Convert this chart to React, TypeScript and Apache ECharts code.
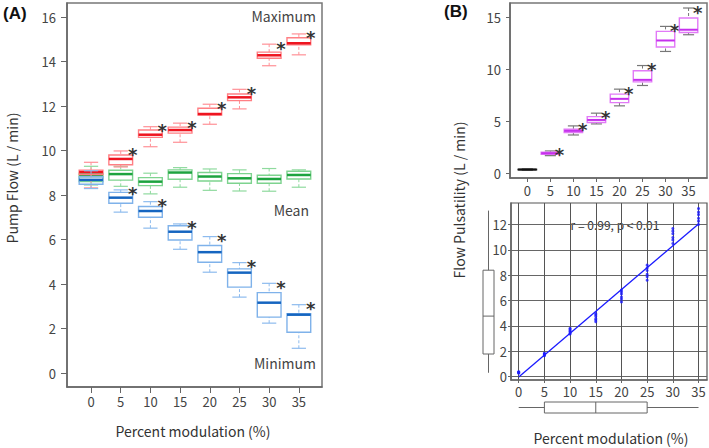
import React, { useEffect, useRef } from 'react';
import * as echarts from 'echarts';

// ---------- DATA ----------
const categories = [0, 5, 10, 15, 20, 25, 30, 35];
// [min, Q1, median, Q3, max]
const maxFlow = [
  [8.33, 8.93, 9.04, 9.13, 9.48],
  [9.27, 9.37, 9.63, 9.81, 9.99],
  [10.18, 10.6, 10.72, 10.93, 11.08],
  [10.38, 10.79, 10.93, 11.06, 11.24],
  [11.19, 11.6, 11.65, 11.91, 12.09],
  [11.88, 12.25, 12.4, 12.55, 12.76],
  [13.82, 14.16, 14.29, 14.43, 14.79],
  [14.31, 14.76, 14.83, 15.08, 15.25],
];
const meanFlow = [
  [8.46, 8.62, 8.86, 8.99, 9.3],
  [8.4, 8.68, 8.95, 9.12, 9.3],
  [8.06, 8.43, 8.61, 8.79, 8.99],
  [8.36, 8.72, 9.02, 9.14, 9.24],
  [8.22, 8.64, 8.84, 9.02, 9.18],
  [8.19, 8.54, 8.76, 8.97, 9.14],
  [8.18, 8.54, 8.73, 8.9, 9.2],
  [8.36, 8.73, 8.91, 9.08, 9.14],
];
const minFlow = [
  [8.3, 8.49, 8.69, 8.83, 9.1],
  [7.24, 7.64, 7.89, 8.13, 8.24],
  [6.52, 7.01, 7.29, 7.49, 7.71],
  [5.57, 5.99, 6.36, 6.63, 6.71],
  [4.54, 4.99, 5.44, 5.74, 6.14],
  [3.42, 3.87, 4.52, 4.69, 4.97],
  [2.25, 2.52, 3.17, 3.62, 4.04],
  [1.12, 1.84, 2.63, 2.67, 3.08],
];
const flowSignificant = [false, true, true, true, true, true, true, true];
const meanSignificant = [false, false, false, false, false, false, false, false];

const pulsatility = [
  [0.36, 0.38, 0.4, 0.42, 0.44],
  [1.73, 1.86, 1.96, 2.05, 2.18],
  [3.71, 3.94, 4.1, 4.26, 4.58],
  [4.77, 4.9, 5.15, 5.47, 5.8],
  [6.5, 6.81, 7.17, 7.62, 8.1],
  [8.45, 8.8, 8.99, 9.86, 10.36],
  [11.71, 12.13, 12.76, 13.63, 14.11],
  [13.31, 13.53, 13.79, 14.91, 15.87],
];
const pulsSignificant = [false, true, true, true, true, true, true, true];

// scatter: pulsatility vs percent modulation
const scatterGroups = [
  [0.27, 0.31, 0.34, 0.37, 0.39],
  [1.65, 1.69, 1.76, 1.8, 1.84],
  [3.36, 3.44, 3.57, 3.63, 3.74, 3.81],
  [4.33, 4.47, 4.58, 4.77, 4.88, 4.99],
  [5.9, 6.12, 6.28, 6.52, 6.69, 6.83],
  [7.61, 7.88, 8.07, 8.38, 8.57, 8.8],
  [10.5, 10.78, 10.97, 11.27, 11.48, 11.69],
  [12.0, 12.27, 12.49, 12.78, 12.98, 13.26],
];
const regressionLine = [
  [0, -0.02],
  [35, 12.05],
];
const regressionLabel = 'r = 0.99, p < 0.01';
const marginalX = [0, 5, 15, 25, 35];
const marginalY = [0.31, 1.79, 4.78, 8.4, 13.1];

const xTicks = [0, 5, 10, 15, 20, 25, 30, 35];
const yTicksA = [0, 2, 4, 6, 8, 10, 12, 14, 16];
const yTicksBTop = [0, 5, 10, 15];
const yTicksBBottom = [0, 2, 4, 6, 8, 10, 12];

// ---------- STYLE ----------
const FONT = '"Noto Sans CJK JP", "Noto Sans", sans-serif';
const LABEL = '#444';

type BoxStyle = { border: string; median: string; whisker: string };

function boxRenderer(style: BoxStyle, halfW: number, capW: number, medianW: number, sig: boolean[], override?: (i: number) => BoxStyle | null) {
  return (params: any, api: any) => {
    const idx = params.dataIndex;
    const st = (override && override(idx)) || style;
    const x = api.value(0);
    const mn = api.value(1), q1 = api.value(2), md = api.value(3), q3 = api.value(4), mx = api.value(5);
    const c = (xx: number, yy: number) => api.coord([xx, yy]);
    const pMin = c(x, mn), pQ1 = c(x, q1), pMd = c(x, md), pQ3 = c(x, q3), pMax = c(x, mx);
    const l = c(x - halfW, q1)[0];
    const r = c(x + halfW, q1)[0];
    const cl = c(x - capW, q1)[0];
    const cr = c(x + capW, q1)[0];
    const children: any[] = [
      { type: 'line', shape: { x1: pMax[0], y1: pMax[1], x2: pQ3[0], y2: pQ3[1] }, style: { stroke: st.whisker, lineWidth: 1, lineDash: [3, 2] } },
      { type: 'line', shape: { x1: pMin[0], y1: pMin[1], x2: pQ1[0], y2: pQ1[1] }, style: { stroke: st.whisker, lineWidth: 1, lineDash: [3, 2] } },
      { type: 'line', shape: { x1: cl, y1: pMax[1], x2: cr, y2: pMax[1] }, style: { stroke: st.whisker, lineWidth: 1.2 } },
      { type: 'line', shape: { x1: cl, y1: pMin[1], x2: cr, y2: pMin[1] }, style: { stroke: st.whisker, lineWidth: 1.2 } },
      { type: 'rect', shape: { x: l, y: pQ3[1], width: r - l, height: pQ1[1] - pQ3[1] }, style: { stroke: st.border, fill: 'none', lineWidth: 1.4 } },
      { type: 'line', shape: { x1: l, y1: pMd[1], x2: r, y2: pMd[1] }, style: { stroke: st.median, lineWidth: medianW } },
    ];
    if (sig[idx]) {
      children.push({
        type: 'text',
        x: r,
        y: pMax[1] + 4,
        style: { text: '*', fontSize: 18, fontWeight: 'bold', fill: '#333', align: 'center', verticalAlign: 'middle', fontFamily: 'DejaVu Sans' },
      });
    }
    return { type: 'group', children };
  };
}

function toBoxData(vals: number[][]) {
  return categories.map((c, i) => [c, ...vals[i]]);
}

function marginalVertical(params: any, api: any) {
  const v = [0, 1, 2, 3, 4].map((i) => api.value(i));
  const c = (xx: number, yy: number) => api.coord([xx, yy]);
  const st = { stroke: '#666', lineWidth: 1, fill: 'none' };
  const a = c(0.5, v[0]), b = c(0.5, v[1]), m = c(0, v[2]), q = c(0.5, v[3]), z = c(0.5, v[4]);
  const L = c(0, v[1])[0], R = c(1, v[1])[0];
  return {
    type: 'group',
    children: [
      { type: 'line', shape: { x1: a[0], y1: a[1], x2: b[0], y2: b[1] }, style: st },
      { type: 'line', shape: { x1: q[0], y1: q[1], x2: z[0], y2: z[1] }, style: st },
      { type: 'rect', shape: { x: L, y: q[1], width: R - L, height: b[1] - q[1] }, style: st },
      { type: 'line', shape: { x1: L, y1: m[1], x2: R, y2: m[1] }, style: st },
    ],
  };
}

function marginalHorizontal(params: any, api: any) {
  const v = [0, 1, 2, 3, 4].map((i) => api.value(i));
  const c = (xx: number, yy: number) => api.coord([xx, yy]);
  const st = { stroke: '#666', lineWidth: 1, fill: 'none' };
  const a = c(v[0], 0.5), b = c(v[1], 0.5), q = c(v[3], 0.5), z = c(v[4], 0.5);
  const T = c(v[1], 1)[1], B = c(v[1], 0)[1];
  const mx = c(v[2], 0)[0];
  return {
    type: 'group',
    children: [
      { type: 'line', shape: { x1: a[0], y1: a[1], x2: b[0], y2: b[1] }, style: st },
      { type: 'line', shape: { x1: q[0], y1: q[1], x2: z[0], y2: z[1] }, style: st },
      { type: 'rect', shape: { x: b[0], y: T, width: q[0] - b[0], height: B - T }, style: st },
      { type: 'line', shape: { x1: mx, y1: T, x2: mx, y2: B }, style: st },
    ],
  };
}

function valueAxis(extra: any) {
  return {
    type: 'value',
    axisLine: { show: true, onZero: false, lineStyle: { color: '#666', width: 1.5 } },
    splitLine: { show: false },
    ...extra,
  };
}

export default function App() {
  const ref = useRef<HTMLDivElement>(null);
  useEffect(() => {
    if (!ref.current) return;
    const chart = echarts.init(ref.current, null, { renderer: 'svg' });
    const lbl = (margin: number, values: number[]) => ({ customValues: values, color: LABEL, fontSize: 13, fontFamily: FONT, margin });
    const tick = (len: number, values: number[]) => ({ show: true, customValues: values, length: len, lineStyle: { color: '#666', width: 1 } });
    const scatterData: number[][] = [];
    categories.forEach((c, i) => scatterGroups[i].forEach((v) => scatterData.push([c, v])));

    const option: any = {
      animation: false,
      textStyle: { fontFamily: FONT },
      grid: [
        { left: 67, top: 3, width: 255, height: 384, show: true, borderColor: '#777', borderWidth: 1.5 },
        { left: 510, top: 3, width: 197, height: 175, show: true, borderColor: '#777', borderWidth: 1.5 },
        { left: 511, top: 203, width: 196, height: 177, show: true, borderColor: '#555', borderWidth: 1.2 },
        { left: 483, top: 203, width: 11, height: 177 },
        { left: 511, top: 402, width: 196, height: 11 },
      ],
      xAxis: [
        valueAxis({ gridIndex: 0, min: -4.05, max: 38.9, axisTick: tick(6, xTicks), axisLabel: lbl(8, xTicks) }),
        valueAxis({ gridIndex: 1, min: -3.76, max: 39.0, axisTick: tick(4, xTicks), axisLabel: lbl(6, xTicks) }),
        valueAxis({ gridIndex: 2, min: -1.5, max: 36.65, axisTick: tick(3, xTicks), axisLabel: lbl(5, xTicks),
          splitLine: { show: true, lineStyle: { color: '#555', width: 1 } } }),
        { type: 'value', gridIndex: 3, min: 0, max: 1, show: false },
        { type: 'value', gridIndex: 4, min: -1.5, max: 36.65, show: false },
      ],
      yAxis: [
        valueAxis({ gridIndex: 0, min: -0.62, max: 16.64, axisTick: tick(6, yTicksA), axisLabel: lbl(11, yTicksA) }),
        valueAxis({ gridIndex: 1, min: -0.41, max: 16.35, axisTick: tick(4, yTicksBTop), axisLabel: lbl(9, yTicksBTop) }),
        valueAxis({ gridIndex: 2, min: -0.26, max: 13.7, axisTick: tick(3, yTicksBBottom), axisLabel: lbl(4, yTicksBBottom),
          splitLine: { show: true, lineStyle: { color: '#666', width: 1 } } }),
        { type: 'value', gridIndex: 3, min: -0.26, max: 13.7, show: false },
        { type: 'value', gridIndex: 4, min: 0, max: 1, show: false },
      ],
      series: [
        {
          type: 'custom', xAxisIndex: 0, yAxisIndex: 0, encode: { x: 0, y: [1, 2, 3, 4, 5] },
          data: toBoxData(meanFlow),
          renderItem: boxRenderer({ border: '#7ED38F', median: '#1DA33F', whisker: '#8FDA9E' }, 2, 1.2, 2.5, meanSignificant),
        },
        {
          type: 'custom', xAxisIndex: 0, yAxisIndex: 0, encode: { x: 0, y: [1, 2, 3, 4, 5] },
          data: toBoxData(maxFlow),
          renderItem: boxRenderer({ border: '#FF7F84', median: '#EE1520', whisker: '#FF9096' }, 2, 1.2, 2.5, flowSignificant),
        },
        {
          type: 'custom', xAxisIndex: 0, yAxisIndex: 0, encode: { x: 0, y: [1, 2, 3, 4, 5] },
          data: toBoxData(minFlow),
          renderItem: boxRenderer({ border: '#7FB2EA', median: '#1565C0', whisker: '#8DBBEE' }, 2, 1.2, 2.5, flowSignificant),
        },
        {
          type: 'custom', xAxisIndex: 1, yAxisIndex: 1, encode: { x: 0, y: [1, 2, 3, 4, 5] },
          data: toBoxData(pulsatility),
          renderItem: boxRenderer({ border: '#E27AF7', median: '#C630EE', whisker: '#777' }, 2, 1.2, 2, pulsSignificant,
            (i) => (i === 0 ? { border: '#222', median: '#111', whisker: '#222' } : null)),
        },
        {
          type: 'scatter', xAxisIndex: 2, yAxisIndex: 2, data: scatterData, symbolSize: 3,
          itemStyle: { color: '#1a1aff' }, silent: true,
        },
        {
          type: 'line', xAxisIndex: 2, yAxisIndex: 2, data: regressionLine, showSymbol: false,
          lineStyle: { color: '#1a1aff', width: 1.3 }, silent: true,
        },
        {
          type: 'custom', xAxisIndex: 3, yAxisIndex: 3, encode: { y: [0, 1, 2, 3, 4] },
          data: [marginalY], renderItem: marginalVertical,
        },
        {
          type: 'custom', xAxisIndex: 4, yAxisIndex: 4, encode: { x: [0, 1, 2, 3, 4] },
          data: [marginalX], renderItem: marginalHorizontal,
        },
      ],
      graphic: [
        { type: 'text', left: 3, top: 5, style: { text: '(A)', fontSize: 17, fontWeight: 'bold', fill: '#111', fontFamily: 'Liberation Sans' } },
        { type: 'text', left: 444, top: 3, style: { text: '(B)', fontSize: 17, fontWeight: 'bold', fill: '#111', fontFamily: 'Liberation Sans' } },
        { type: 'text', x: 316, y: 16, style: { text: 'Maximum', fontSize: 14, fill: '#444', align: 'right', verticalAlign: 'middle', fontFamily: FONT } },
        { type: 'text', x: 309, y: 210, style: { text: 'Mean', fontSize: 14, fill: '#444', align: 'right', verticalAlign: 'middle', fontFamily: FONT } },
        { type: 'text', x: 316, y: 363, style: { text: 'Minimum', fontSize: 14, fill: '#444', align: 'right', verticalAlign: 'middle', fontFamily: FONT } },
        { type: 'text', x: 193, y: 431, style: { text: 'Percent modulation (%)', fontSize: 14, fill: '#333', align: 'center', verticalAlign: 'middle', fontFamily: FONT } },
        { type: 'text', x: 611, y: 438, style: { text: 'Percent modulation (%)', fontSize: 14, fill: '#333', align: 'center', verticalAlign: 'middle', fontFamily: FONT } },
        { type: 'text', x: 12, y: 178, rotation: Math.PI / 2, style: { text: 'Pump Flow (L / min)', fontSize: 14, fill: '#333', align: 'center', verticalAlign: 'middle', fontFamily: FONT } },
        { type: 'text', x: 459, y: 200, rotation: Math.PI / 2, style: { text: 'Flow Pulsatility (L / min)', fontSize: 14, fill: '#333', align: 'center', verticalAlign: 'middle', fontFamily: FONT } },
        { type: 'text', x: 615, y: 224, style: { text: regressionLabel, fontSize: 12, fill: '#333', align: 'center', verticalAlign: 'middle', fontFamily: FONT } },
      ],
    };
    chart.setOption(option);
    return () => chart.dispose();
  }, []);
  return <div ref={ref} style={{ position: 'fixed', left: 0, top: 0, width: 709, height: 448, background: '#fff' }} />;
}
